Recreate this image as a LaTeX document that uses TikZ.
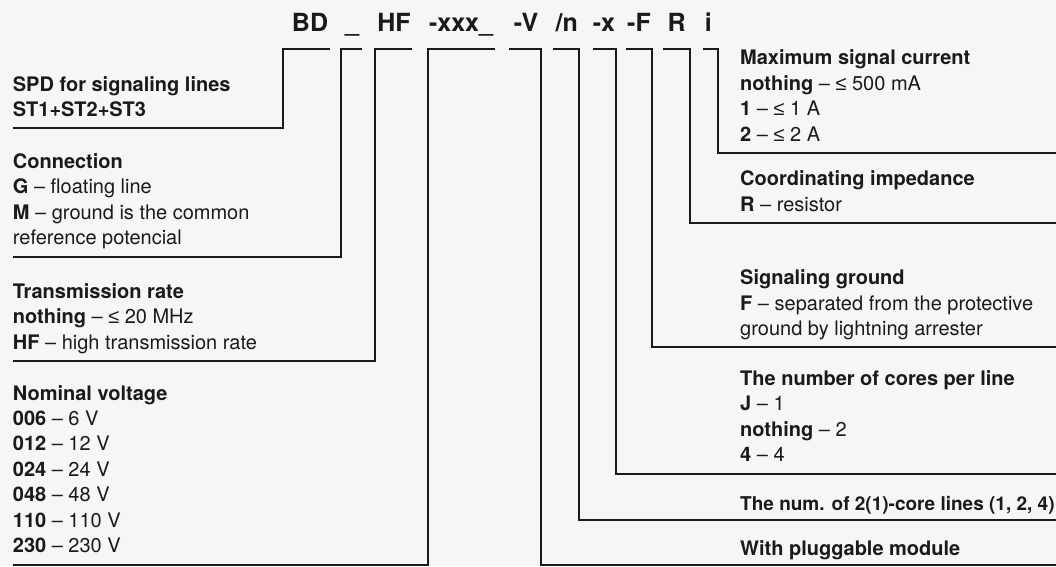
\documentclass[tikz,border=0pt]{standalone}
\usepackage{fontspec}
\setmainfont{TeX Gyre Heros}
\newfontfamily\symfont{Liberation Sans}
\newcommand{\lesym}{{\symfont ≤}}
\definecolor{bgcol}{RGB}{246,246,246}
\definecolor{inkcol}{RGB}{26,26,26}

\begin{document}
\begin{tikzpicture}[x=1pt,y=-1pt,
  code/.style={anchor=base,inner sep=0pt,text=inkcol,font=\fontsize{25}{30}\selectfont\bfseries},
  desc/.style={anchor=base west,align=left,inner sep=0pt,text=inkcol,font=\fontsize{20}{25.4}\selectfont},
  bracket/.style={draw=inkcol,line width=2pt}]
\fill[bgcol] (0,0) rectangle (1056,566);
\useasboundingbox (0,0) rectangle (1056,566);
% type code
\node[code] (lBD) at (310,31) {BD};
\node[code] (lSep) at (352,31) {\_};
\node[code] (lHF) at (394,31) {HF};
\node[code] (lVolt) at (461,31) {-xxx\_};
\node[code] (lMod) at (526,31) {-V};
\node[code] (lLines) at (566.7,31) {/n};
\node[code] (lCores) at (604,31) {-x};
\node[code] (lGnd) at (639,31) {-F};
\node[code] (lImp) at (676.7,31) {R};
\node[code] (lCur) at (708.3,31) {i};
% left column (anchor = last baseline)
\node[desc] (dSPD) at (12.7,116.5) {\textbf{SPD for signaling lines}\\\textbf{ST1+ST2+ST3}};
\node[desc] (dCon) at (12.7,244.5) {\textbf{Connection}\\\textbf{G} – floating line\\\textbf{M} – ground is the common\\reference potencial};
\node[desc] (dRate) at (12.7,349) {\textbf{Transmission rate}\\\textbf{nothing} – \lesym{} 20 MHz\\\textbf{HF} – high transmission rate};
\node[desc] (dVolt) at (12.7,552.5) {\textbf{Nominal voltage}\\\textbf{006} – 6 V\\\textbf{012} – 12 V\\\textbf{024} – 24 V\\\textbf{048} – 48 V\\\textbf{110} – 110 V\\\textbf{230} – 230 V};
% right column
\node[desc] (dCur) at (740,141) {\textbf{Maximum signal current}\\\textbf{nothing} – \lesym{} 500 mA\\\textbf{1} – \lesym{} 1 A\\\textbf{2} – \lesym{} 2 A};
\node[desc] (dImp) at (740,211) {\textbf{Coordinating impedance}\\\textbf{R} – resistor};
\node[desc] (dGnd) at (740,335.5) {\textbf{Signaling ground}\\\textbf{F} – separated from the protective\\ground by lightning arrester};
\node[desc] (dCores) at (740,461.5) {\textbf{The number of cores per line}\\\textbf{J} – 1\\\textbf{nothing} – 2\\\textbf{4} – 4};
\node[desc,font=\fontsize{19}{25.4}\selectfont] (dLines) at (740,510) {\textbf{The num. of 2(1)-core lines (1, 2, 4)}};
\node[desc] (dMod) at (740,555) {\textbf{With pluggable module}};
\coordinate (rEdge) at (1056,0);
% brackets
\draw[bracket] (dSPD.west |- 0,128) -| (283,49) -- (330,49);
\draw[bracket] (dCon.west |- 0,257) -| (341,49) -- (362,49);
\draw[bracket] (dRate.west |- 0,361.3) -| (375,49) -- (412,49);
\draw[bracket] (dVolt.west |- 0,565) -| (428,49) -- (495,49);
\draw[bracket] (rEdge |- 0,152.7) -| (717.5,49) -- (703,49);
\draw[bracket] (rEdge |- 0,222.5) -| (690,49) -- (663,49);
\draw[bracket] (rEdge |- 0,346.7) -| (652,49) -- (626,49);
\draw[bracket] (rEdge |- 0,473.5) -| (616,49) -- (593,49);
\draw[bracket] (rEdge |- 0,520) -| (579,49) -- (553,49);
\draw[bracket] (rEdge |- 0,565) -| (541,49) -- (509,49);
\end{tikzpicture}
\end{document}
